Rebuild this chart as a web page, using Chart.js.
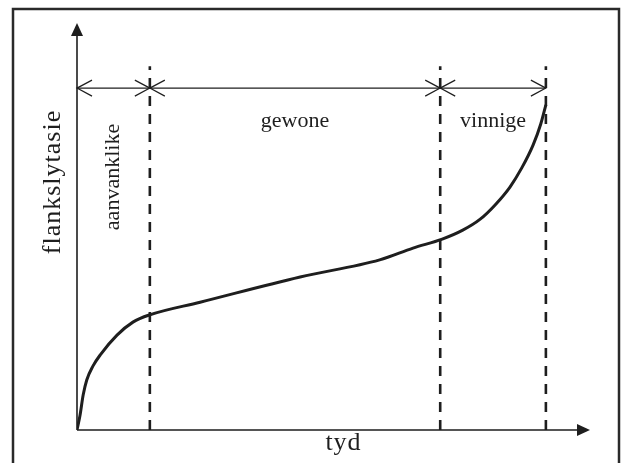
<!DOCTYPE html>
<html lang="af">
<head>
<meta charset="utf-8">
<title>Flankslytasie teen tyd</title>
<script src="https://cdn.jsdelivr.net/npm/chart.js@4.4.1/dist/chart.umd.min.js"></script>
<style>
  html, body { margin: 0; padding: 0; background: #fff; }
  #wrap { width: 621px; height: 463px; }
</style>
</head>
<body>
<div id="wrap"><canvas id="wearChart" width="621" height="463"></canvas></div>
<script>
// curve of flank wear against time (arbitrary units, 0..100 on both axes)
const tyd = [0, 0.6, 1.2, 1.9, 3.1, 4.5, 7.8, 10.9, 14.2, 24, 43.5, 59, 65.5, 71.2, 75.2, 78.6, 81.5, 84.4, 86.7, 88.9, 90.4, 91.4];
const slytasie = [0, 3.7, 8.6, 12.3, 15.7, 18.4, 23.3, 26.5, 28.3, 31.4, 37.6, 41.8, 44.7, 46.9, 49.1, 51.8, 55.3, 59.7, 64.4, 70.0, 75.2, 79.9];

// phase boundaries and names
const grense = [0, 14.2, 70.8, 91.4];
const fases = ["aanvanklike", "gewone", "vinnige"];
const grensTop = 89.4;   // top of the dashed lines
const pylHoogte = 84;     // height of the range arrow

const ink = "#1e1e1e";

const datasets = [
  {
    label: "slytasie",
    data: tyd.map((t, i) => ({ x: t, y: slytasie[i] })),
    borderColor: ink,
    borderWidth: 3,
    pointRadius: 0,
    cubicInterpolationMode: "monotone",
    fill: false
  },
  {
    label: "reeks",
    data: [{ x: grense[0], y: pylHoogte }, { x: grense[3], y: pylHoogte }],
    borderColor: ink,
    borderWidth: 1.2,
    pointRadius: 0
  }
];
// dashed boundary lines
grense.slice(1).forEach(g => {
  datasets.push({
    label: "grens",
    data: [{ x: g, y: 0 }, { x: g, y: grensTop }],
    borderColor: ink,
    borderWidth: 2.6,
    borderDash: [10, 8],
    pointRadius: 0
  });
});

// frame, axes with arrows, chevrons and labels
const sketch = {
  id: "sketch",
  beforeDraw(chart) {
    const c = chart.ctx;
    c.save();
    c.fillStyle = "#fff";
    c.fillRect(0, 0, chart.width, chart.height);
    c.strokeStyle = "#2a2a2a";
    c.lineWidth = 2.5;
    c.strokeRect(13, 9, 606, 470);
    c.restore();
  },
  afterDatasetsDraw(chart) {
    const c = chart.ctx;
    const xs = chart.scales.x, ys = chart.scales.y;
    const x0 = xs.getPixelForValue(0), y0 = ys.getPixelForValue(0);
    const xEnd = xs.right, yEnd = ys.top;
    c.save();
    c.strokeStyle = ink;
    c.fillStyle = ink;
    // axes
    c.lineWidth = 1.6;
    c.beginPath();
    c.moveTo(x0, y0); c.lineTo(x0, yEnd + 10);
    c.moveTo(x0, y0); c.lineTo(xEnd - 10, y0);
    c.stroke();
    c.beginPath();
    c.moveTo(x0, yEnd); c.lineTo(x0 - 6, yEnd + 13); c.lineTo(x0 + 6, yEnd + 13); c.closePath();
    c.fill();
    c.beginPath();
    c.moveTo(xEnd, y0); c.lineTo(xEnd - 13, y0 - 6); c.lineTo(xEnd - 13, y0 + 6); c.closePath();
    c.fill();

    // chevrons on the range arrow
    const ya = ys.getPixelForValue(pylHoogte);
    c.lineWidth = 1.2;
    const chevron = (x, dir) => {
      c.beginPath();
      c.moveTo(x + dir * 15, ya - 8);
      c.lineTo(x, ya);
      c.lineTo(x + dir * 15, ya + 8);
      c.stroke();
    };
    grense.forEach((g, i) => {
      const px = xs.getPixelForValue(g);
      if (i < grense.length - 1) chevron(px, 1);
      if (i > 0) chevron(px, -1);
    });

    // texts
    c.font = "22px 'Liberation Serif', 'Times New Roman', serif";
    c.textAlign = "center";
    c.textBaseline = "alphabetic";
    const mid = i => xs.getPixelForValue((grense[i] + grense[i + 1]) / 2);
    c.fillText(fases[1], mid(1), 127);
    c.fillText(fases[2], mid(2), 127);

    c.save();
    c.translate(mid(0) + 6, 177);
    c.rotate(-Math.PI / 2);
    c.fillText(fases[0], 0, 0);
    c.restore();

    c.font = "26px 'Liberation Serif', 'Times New Roman', serif";
    c.letterSpacing = "1px";
    c.save();
    c.translate(60, 182);
    c.rotate(-Math.PI / 2);
    c.fillText("flankslytasie", 0, 0);
    c.restore();
    c.fillText("tyd", (x0 + xEnd) / 2 + 10, 450);
    c.restore();
  }
};

new Chart(document.getElementById("wearChart").getContext("2d"), {
  type: "line",
  data: { datasets },
  options: {
    responsive: false,
    animation: false,
    layout: { padding: { left: 77, top: 23, right: 31, bottom: 33 } },
    plugins: { legend: { display: false }, tooltip: { enabled: false } },
    scales: {
      x: { type: "linear", min: 0, max: 100, display: false },
      y: { type: "linear", min: 0, max: 100, display: false }
    }
  },
  plugins: [sketch]
});
</script>
</body>
</html>
